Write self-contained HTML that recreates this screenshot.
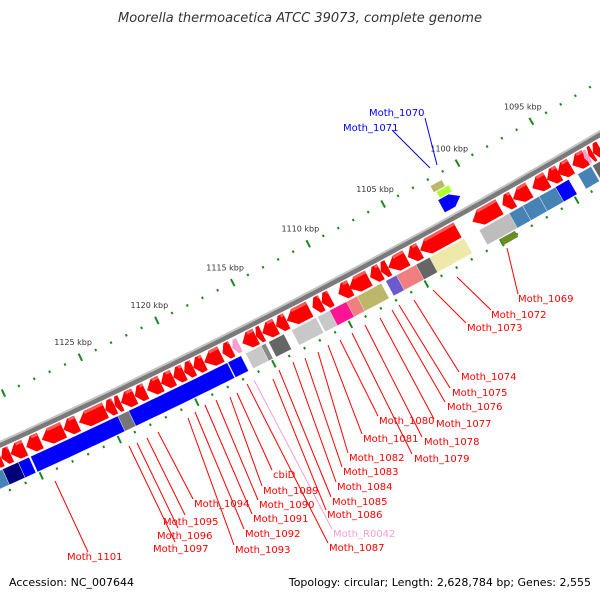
<!DOCTYPE html>
<html><head><meta charset="utf-8"><style>
html,body{margin:0;padding:0;background:#fff;}
svg{display:block;font-family:"DejaVu Sans","Liberation Sans",sans-serif;}
</style></head><body>
<svg id="chart" width="600" height="600" viewBox="0 0 600 600" xmlns="http://www.w3.org/2000/svg">
<text x="300" y="22" text-anchor="middle" font-size="13" font-style="italic" fill="#333">Moorella thermoacetica ATCC 39073, complete genome</text>
<g id="ticks"></g>
<g id="backbone"></g>
<g id="features"></g>
<g id="labels"></g>
<text x="9" y="586" font-size="11" fill="#000">Accession: NC_007644</text>
<text x="591" y="586" font-size="11" fill="#000" text-anchor="end">Topology: circular; Length: 2,628,784 bp; Genes: 2,555</text>
</svg>
<script>
// ---- data (kbp) ----
const redStarts = [1092.3,1092.8,1093.3,1094.3,1095.1,1095.9,1097.1,1098.2,1099.1,1101.9,1104.4,1105.3,1106.5,1107.0,1107.8,1109.0,1110.3,1110.9,1111.7,1113.2,1113.9,1114.8,1115.2,1116.8,1117.5,1118.6,1119.3,1119.9,1120.6,1121.4,1122.4,1123.1,1124.0,1124.4,1125.0,1126.8,1127.7,1129.2,1130.2,1131.1,1131.7,1132.2];
const redEnds   = [1092.8,1093.1,1094.2,1095.2,1095.9,1096.9,1098.2,1098.9,1100.9,1104.4,1105.2,1106.5,1107.0,1107.7,1109.1,1109.8,1110.9,1111.5,1113.2,1113.9,1114.8,1115.2,1116.1,1117.4,1118.6,1119.3,1119.9,1120.6,1121.4,1122.3,1123.1,1124.0,1124.4,1125.0,1126.7,1127.7,1129.1,1130.1,1131.1,1131.7,1132.2,1133.0];
const pinkStarts = [1093.1,1116.3];
const pinkEnds   = [1093.4,1116.75];
const lane2Starts = [1092.6,1093.3,1094.8,1095.7,1096.8,1097.9,1098.8,1101.8,1104.1,1105.0,1106.3,1107.3,1108.9,1109.6,1110.7,1111.6,1113.7,1114.9,1115.2,1116.5,1117.4,1123.8,1124.5,1130.2,1130.9,1131.9];
const lane2Ends   = [1093.2,1094.2,1095.7,1096.8,1097.9,1099.0,1100.8,1104.3,1105.2,1106.6,1107.0,1109.2,1109.7,1110.9,1111.5,1113.2,1114.7,1115.2,1116.2,1117.35,1123.8,1124.5,1130.1,1130.9,1131.9,1134.0];
const lane2Colors = ["#666","#4682b4","#0000ff","#4682b4","#4682b4","#4682b4","#bdbdbd","#eee8aa","#666","#f08080","#6a5acd","#bdb76b","#f08080","#ff1493","#c8c8c8","#c8c8c8","#666","#888","#c8c8c8","#0000ff","#0000ff","#777","#0000ff","#0000ff","#00007a","#4682b4"];
const lane3Starts = [1099.0];
const lane3Ends   = [1100.0];
const outerStarts = [1100.8,1101.1,1101.3];
const outerEnds   = [1102.05,1101.9,1102.05];
const outerColors = ["#0000ff","#adff2f","#bdb76b"];
const tickMin = 1086, tickMax = 1135, majorStep = 5;
const labelMin = 1095, labelMax = 1125;

// label annotations: text, text x, baseline, leader start, leader end
const labelTexts = ["Moth_1069","Moth_1072","Moth_1073","Moth_1074","Moth_1075","Moth_1076","Moth_1077","Moth_1078","Moth_1079","Moth_1080","Moth_1081","Moth_1082","Moth_1083","Moth_1084","Moth_1085","Moth_1086","Moth_R0042","Moth_1087","cbiD","Moth_1089","Moth_1090","Moth_1091","Moth_1092","Moth_1093","Moth_1094","Moth_1095","Moth_1096","Moth_1097","Moth_1101","Moth_1070","Moth_1071"];
const labelLayout = [
[518,302,507,248,518,294],[491,318,457,277,491,310],[467,331,433,290,466,323],[461,380,414,300,459,372],
[452,396,399,305,450,388],[447,410,392,310,445,402],[436,427,380,318,434,419],[424,445,365,325,422,437],
[414,462,352,333,412,454],[379,424,340,340,378,416],[363,442,328,345,362,434],[349,461,318,352,348,453],
[343,475,305,358,342,467],[337,490,293,362,336,482],[332,505,279,370,331,497],[327,518,273,379,326,510],
[333,537,254,380,332,529],[329,551,247,384,328,543],[273,478,237,393,272,470],[263,494,230,397,262,486],
[259,508,216,400,258,500],[253,522,205,405,252,514],[245,537,195,412,244,529],[235,553,188,418,234,545],
[194,507,158,432,193,499],[163,525,147,438,185,515],[157,539,137,443,178,528],[153,552,129,446,175,542],
[67,560,55,481,88,552],[369,116,437,165,425,118],[343,131,430,168,392,130]];
const labelColors = labelTexts.map(t => t==="Moth_R0042" ? "#f7a0d0" : (t==="Moth_1070"||t==="Moth_1071") ? "#0000ff" : "#ff0000");

// ---- geometry ----
const CX=-2638, CY=-5387, R=6400;
function pos(k,d){const a=(60.85+(k-1100)*0.153)*Math.PI/180;const r=R+d;return [CX+r*Math.cos(a),CY+r*Math.sin(a)];}
const NS="http://www.w3.org/2000/svg";
function mk(tag,attrs,parent){const e=document.createElementNS(NS,tag);for(const k in attrs)e.setAttribute(k,attrs[k]);parent.appendChild(e);return e;}
function arcPts(k1,k2,d){const n=Math.max(2,Math.ceil(Math.abs(k2-k1)*2));const p=[];for(let i=0;i<=n;i++)p.push(pos(k1+(k2-k1)*i/n,d));return p;}
function ptsStr(p){return p.map(q=>q[0].toFixed(1)+","+q[1].toFixed(1)).join(" ");}
function segPoly(k1,k2,d1,d2){return arcPts(k1,k2,d1).concat(arcPts(k2,k1,d2));}
function arrowPoly(kl,kh,d1,d2,dirHigh){const t=Math.min(0.55,(kh-kl)*0.5);const dm=(d1+d2)/2;
 if(dirHigh){return arcPts(kl,kh-t,d1).concat([pos(kh,dm)],arcPts(kh-t,kl,d2));}
 return [pos(kl,dm)].concat(arcPts(kl+t,kh,d1),arcPts(kh,kl+t,d2));}

// ticks
const tg=document.getElementById('ticks');
for(let k=tickMin;k<=tickMax;k++){
 const major=(k%majorStep===0);
 [-45,46].forEach(d=>{const L=major?4:1.2;const a=pos(k,d-L),b=pos(k,d+L);
  const ln=mk('line',{x1:a[0],y1:a[1],x2:b[0],y2:b[1],stroke:'#1a8a1a','stroke-width':2},tg);
  
  });
 if(major && k>=labelMin && k<=labelMax){const p=pos(k,-62);const t=mk('text',{x:p[0],y:p[1]+3,'text-anchor':'middle','font-size':8,fill:'#333'},tg);t.textContent=k+" kbp";
  
  }
}
// backbone
const bg=document.getElementById('backbone');
const bb1=mk('polyline',{points:ptsStr(arcPts(1084,1137,0.5)),fill:'none',stroke:'#7a7a7a','stroke-width':6},bg);


const bb2=mk('polyline',{points:ptsStr(arcPts(1084,1137,-2)),fill:'none',stroke:'#c4c4c4','stroke-width':2},bg);



// features
const fg=document.getElementById('features');
for(let i=0;i<redStarts.length;i++){
 const p=mk('polygon',{points:ptsStr(arrowPoly(redStarts[i],redEnds[i],5,22,true)),fill:'#ff0000'},fg);
 
 
 const h=mk('polygon',{points:ptsStr(segPoly(redStarts[i],Math.max(redStarts[i],redEnds[i]-0.5),5,8)),fill:'#ff5a5a'},fg);
 
 
}
for(let i=0;i<pinkStarts.length;i++){
 const p=mk('polygon',{points:ptsStr(arrowPoly(pinkStarts[i],pinkEnds[i],6,21,true)),fill:'#f7a0d0'},fg);
 
 
}
for(let i=0;i<lane2Starts.length;i++){
 const p=mk('polygon',{points:ptsStr(segPoly(lane2Starts[i],lane2Ends[i],24,41)),fill:lane2Colors[i],stroke:'#fff','stroke-width':0.4},fg);
 
 
}
for(let i=0;i<lane3Starts.length;i++){
 const p=mk('polygon',{points:ptsStr(segPoly(lane3Starts[i],lane3Ends[i],42,49)),fill:'#6b8e23'},fg);
 
 
}
{
 const p=mk('polygon',{points:ptsStr(arrowPoly(outerStarts[0],outerEnds[0],-22,-8,false)),fill:outerColors[0]},fg);
 
 
 for(let i=1;i<outerStarts.length;i++){
  const q=mk('polygon',{points:ptsStr(segPoly(outerStarts[i],outerEnds[i],i===1?-30:-38,i===1?-23:-31)),fill:outerColors[i]},fg);
  
  
 }
}
// labels
const lg=document.getElementById('labels');
for(let i=0;i<labelTexts.length;i++){
 const L=labelLayout[i];
 const ln=mk('line',{x1:L[2],y1:L[3],x2:L[4],y2:L[5],stroke:labelColors[i],'stroke-width':1},lg);
 
 
 const t=mk('text',{x:L[0],y:L[1],'font-size':10,fill:labelColors[i]},lg);
 t.textContent=labelTexts[i];
 
 
}
</script>
</body></html>
